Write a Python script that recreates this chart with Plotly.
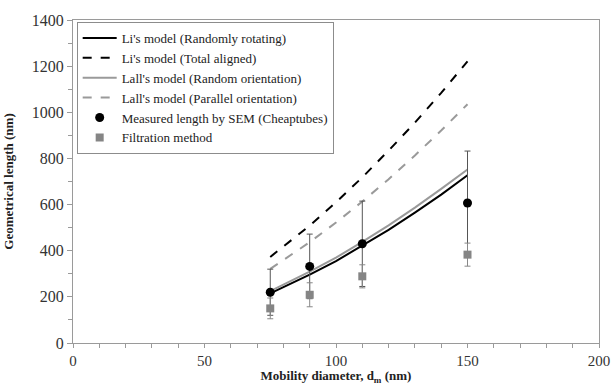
import plotly.graph_objects as go

# Model curves (mobility diameter, nm)
d_model = [75, 90, 100, 110, 120, 130, 140, 150]
li_random = [215, 296, 355, 421, 490, 565, 643, 727]
li_aligned = [373, 509, 610, 718, 834, 955, 1084, 1221]
lall_random = [225, 309, 370, 438, 510, 587, 668, 752]
lall_parallel = [321, 437, 522, 613, 710, 813, 921, 1035]

# Measurements
d_meas = [75, 90, 110, 150]
sem_len = [220, 332, 430, 607]
sem_err = [100, 140, 185, 225]
filt_len = [150, 209, 289, 383]
filt_err = [45, 52, 50, 50]

FONT = "Liberation Serif, Times New Roman, serif"

fig = go.Figure()
fig.add_trace(go.Scatter(x=d_model, y=li_random, mode="lines", name="Li's model (Randomly rotating)",
                         line=dict(color="black", width=2)))
fig.add_trace(go.Scatter(x=d_model, y=li_aligned, mode="lines", name="Li's model (Total aligned)",
                         line=dict(color="black", width=2, dash="dash")))
fig.add_trace(go.Scatter(x=d_model, y=lall_random, mode="lines", name="Lall's model (Random orientation)",
                         line=dict(color="#9a9a9a", width=2)))
fig.add_trace(go.Scatter(x=d_model, y=lall_parallel, mode="lines", name="Lall's model (Parallel orientation)",
                         line=dict(color="#9a9a9a", width=2, dash="dash")))
fig.add_trace(go.Scatter(x=d_meas, y=sem_len, mode="markers", name="Measured length by SEM (Cheaptubes)",
                         marker=dict(color="black", size=9, symbol="circle"),
                         error_y=dict(type="data", array=sem_err, color="#555555", thickness=1, width=3)))
fig.add_trace(go.Scatter(x=d_meas, y=filt_len, mode="markers", name="Filtration method",
                         marker=dict(color="#858585", size=8, symbol="square"),
                         error_y=dict(type="data", array=filt_err, color="#888888", thickness=1, width=3)))

fig.update_layout(
    width=611, height=385,
    margin=dict(l=73, r=12, t=20, b=42, autoexpand=False),
    paper_bgcolor="white", plot_bgcolor="white",
    font=dict(family=FONT, size=13, color="#222222"),
    showlegend=True,
    legend=dict(x=0.007, y=0.994, xanchor="left", yanchor="top",
                bordercolor="#8c8c8c", borderwidth=1, bgcolor="white",
                font=dict(family=FONT, size=13, color="#222222"),
                tracegroupgap=0, itemwidth=34),
    xaxis=dict(range=[0, 200], dtick=50, tick0=0, showgrid=False, zeroline=False, automargin=False,
               showline=True, linecolor="#9a9a9a", linewidth=1, mirror=True,
               ticks="outside", ticklen=4, tickcolor="#9a9a9a",
               minor=dict(dtick=10, ticks="outside", ticklen=4, tickcolor="#9a9a9a"),
               tickfont=dict(size=15, color="#333333"),
               title=dict(text="<b>Mobility diameter, d<sub>m</sub> (nm)</b>", font=dict(size=13))),
    yaxis=dict(range=[0, 1400], dtick=200, tick0=0, showgrid=False, zeroline=False, automargin=False,
               showline=True, linecolor="#9a9a9a", linewidth=1, mirror=True,
               ticks="outside", ticklen=5, tickcolor="#9a9a9a",
               minor=dict(dtick=100, ticks="outside", ticklen=4, tickcolor="#9a9a9a"),
               tickfont=dict(size=16, color="#333333"),
               title=dict(text="<b>Geometrical length (nm)</b>", font=dict(size=13))),
)

fig.write_html("out.html", config={"displayModeBar": False},
               post_script="document.body.style.margin='0';document.body.style.overflow='hidden';")
